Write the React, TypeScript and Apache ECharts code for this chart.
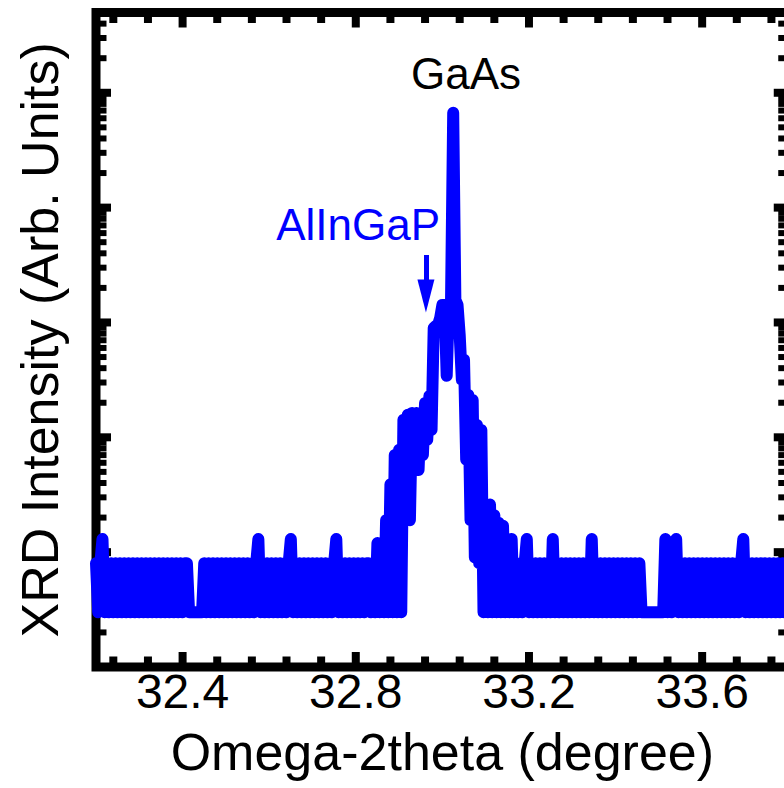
import React, { useEffect, useRef } from "react";
import * as echarts from "echarts";

// Omega-2theta scan grid (degrees)
const scanStart = 32.2;
const scanStep = 0.005;

// Detector counts, 32.200° – 32.825°
const countsLeftWing = [
  8, 3, 8, 13, 3, 8, 3, 8, 3, 8,
  3, 8, 3, 8, 3, 8, 3, 8, 3, 8,
  3, 8, 3, 8, 3, 8, 3, 8, 3, 8,
  3, 8, 3, 8, 3, 8, 3, 8, 3, 8,
  3, 8, 8, 3, 3, 3, 3, 3, 3, 3,
  8, 3, 8, 3, 8, 3, 8, 3, 8, 3,
  8, 3, 8, 3, 8, 3, 8, 3, 8, 3,
  8, 3, 8, 3, 8, 13, 3, 8, 3, 8,
  3, 8, 3, 8, 3, 8, 3, 8, 3, 8,
  13, 3, 8, 3, 8, 3, 8, 3, 8, 3,
  8, 3, 8, 3, 8, 3, 8, 3, 8, 3,
  8, 13, 3, 8, 3, 8, 3, 8, 3, 8,
  3, 8, 3, 8, 3, 8,
];

// Detector counts, 32.830° – 33.170° (AlInGaP layer + GaAs substrate)
const countsPeak = [
  8, 3, 8, 3, 12, 3, 12, 3, 19, 3,
  39, 3, 70, 3, 78, 3, 142, 19, 157, 19,
  163, 52, 163, 52, 163, 70, 199, 95, 229, 116,
  898, 934, 953, 1100, 1420, 1420, 343, 1420, 1570, 67000,
  1570, 1420, 780, 316, 472, 64, 234, 19, 211, 9,
  128, 8, 116, 3, 26, 3, 26, 3, 21, 3,
  18, 3, 17, 3, 13, 3, 13, 3, 8,
];

// Detector counts, 33.175° – 33.800°
const countsRightWing = [
  3, 8, 3, 8, 13, 3, 8, 3, 8, 3,
  8, 3, 8, 3, 8, 3, 13, 3, 8, 3,
  8, 3, 8, 3, 8, 3, 8, 3, 8, 3,
  8, 3, 8, 3, 13, 3, 8, 3, 8, 3,
  8, 3, 8, 3, 8, 3, 8, 3, 8, 3,
  8, 3, 8, 3, 8, 3, 8, 3, 3, 3,
  3, 3, 3, 3, 3, 3, 3, 3, 13, 3,
  8, 3, 8, 13, 3, 8, 3, 8, 3, 8,
  3, 8, 3, 8, 3, 8, 3, 8, 3, 8,
  3, 8, 3, 8, 3, 8, 3, 8, 3, 8,
  3, 8, 3, 8, 13, 3, 8, 3, 8, 3,
  8, 3, 8, 3, 8, 3, 8, 3, 8, 3,
  8, 3, 8, 3, 8, 3,
];

// Axis ranges and ticks
const X_MIN = 32.2;
const X_MAX = 33.8;
const Y_MIN = 1;
const Y_MAX = 5e5;
const xTickLabels = [32.4, 32.8, 33.2, 33.6];
const xMinorTicks = [
  32.24, 32.32, 32.48, 32.56, 32.64, 32.72, 32.88, 32.96,
  33.04, 33.12, 33.28, 33.36, 33.44, 33.52, 33.68, 33.76,
];
const yDecades = [10, 100, 1000, 10000, 100000];
const yMinorMultipliers = [2, 3, 4, 5, 6, 7, 8, 9];

// Layer peak marker (arrow from shaft top to head centre, in data units)
const layerArrowX = 32.962;
const layerArrowTop = 3866;
const layerArrowHead = 1700;

const FONT = "'Liberation Sans', Arial, Helvetica, sans-serif";
const BLUE = "#0000FF";

const counts = [...countsLeftWing, ...countsPeak, ...countsRightWing];
const scanData = counts.map((c, i) => [
  Math.round((scanStart + i * scanStep) * 1000) / 1000,
  c,
]);

const yMinorTicks: number[] = [1, ...yDecades].flatMap((d) =>
  yMinorMultipliers.map((k) => k * d).filter((v) => v < Y_MAX)
);

const xTickData = [
  ...xTickLabels.map((v) => [v, Y_MIN, 1]),
  ...xMinorTicks.map((v) => [v, Y_MIN, 0]),
];
const yTickData = [
  ...yDecades.map((v) => [X_MIN, v, 1]),
  ...yMinorTicks.map((v) => [X_MIN, v, 0]),
];

const MAJOR_LEN = 15;
const MINOR_LEN = 10.5;

function renderXTick(params: any, api: any) {
  const x = api.value(0);
  const major = api.value(2) === 1;
  const len = major ? MAJOR_LEN : MINOR_LEN;
  const b = api.coord([x, Y_MIN]);
  const t = api.coord([x, Y_MAX]);
  const style = { stroke: "#000", lineWidth: 8 };
  return {
    type: "group",
    children: [
      { type: "line", shape: { x1: b[0], y1: b[1], x2: b[0], y2: b[1] - len }, style },
      { type: "line", shape: { x1: t[0], y1: t[1], x2: t[0], y2: t[1] + len }, style },
    ],
  };
}

function renderYTick(params: any, api: any) {
  const y = api.value(1);
  const major = api.value(2) === 1;
  const len = major ? MAJOR_LEN : MINOR_LEN;
  const l = api.coord([X_MIN, y]);
  const r = api.coord([X_MAX, y]);
  const style = { stroke: "#000", lineWidth: major ? 8 : 6 };
  return {
    type: "group",
    children: [
      { type: "line", shape: { x1: l[0], y1: l[1], x2: l[0] + len, y2: l[1] }, style },
      { type: "line", shape: { x1: r[0], y1: r[1], x2: r[0] - len, y2: r[1] }, style },
    ],
  };
}

const option: any = {
  animation: false,
  backgroundColor: "#ffffff",
  textStyle: { fontFamily: FONT },
  grid: {
    left: 96,
    right: 11.25,
    top: 12.5,
    bottom: 121,
    show: true,
    borderColor: "#000",
    borderWidth: 9,
    backgroundColor: "transparent",
  },
  xAxis: {
    type: "value",
    min: X_MIN,
    max: X_MAX,
    interval: 0.2,
    axisLine: { show: false },
    axisTick: { show: false },
    splitLine: { show: false },
    axisLabel: {
      color: "#000",
      fontSize: 48,
      fontFamily: FONT,
      margin: 0,
      formatter: (v: number) =>
        xTickLabels.some((t) => Math.abs(t - v) < 1e-6) ? v.toFixed(1) : "",
    },
    name: "Omega-2theta (degree)",
    nameLocation: "middle",
    nameGap: 59,
    nameTextStyle: { color: "#000", fontSize: 52, fontFamily: FONT },
  },
  yAxis: {
    type: "log",
    logBase: 10,
    min: Y_MIN,
    max: Y_MAX,
    axisLine: { show: false },
    axisTick: { show: false },
    axisLabel: { show: false },
    splitLine: { show: false },
    name: "XRD Intensity (Arb. Units)",
    nameLocation: "middle",
    nameGap: 30,
    nameTextStyle: { color: "#000", fontSize: 52, fontFamily: FONT },
  },
  graphic: [
    {
      type: "text",
      z: 10,
      style: {
        text: "GaAs",
        x: 466,
        y: 73,
        align: "center",
        verticalAlign: "middle",
        fill: "#000",
        font: `44px ${FONT}`,
      },
    },
    {
      type: "text",
      z: 10,
      style: {
        text: "AlInGaP",
        x: 440,
        y: 224,
        align: "right",
        verticalAlign: "middle",
        fill: BLUE,
        font: `44px ${FONT}`,
      },
    },
  ],
  series: [
    {
      type: "custom",
      name: "xTicks",
      coordinateSystem: "cartesian2d",
      silent: true,
      z: 1,
      clip: false,
      encode: { x: 0, y: 1 },
      data: xTickData,
      renderItem: renderXTick,
    },
    {
      type: "custom",
      name: "yTicks",
      coordinateSystem: "cartesian2d",
      silent: true,
      z: 1,
      clip: false,
      encode: { x: 0, y: 1 },
      data: yTickData,
      renderItem: renderYTick,
    },
    {
      type: "line",
      name: "XRD",
      z: 2,
      data: scanData,
      showSymbol: false,
      symbol: "none",
      clip: true,
      lineStyle: { color: BLUE, width: 12, cap: "round", join: "round" },
      markLine: {
        silent: true,
        symbol: ["none", "triangle"],
        symbolSize: [17, 33],
        label: { show: false },
        lineStyle: { color: BLUE, width: 5, type: "solid" },
        itemStyle: { color: BLUE },
        data: [
          [
            { coord: [layerArrowX, layerArrowTop] },
            { coord: [layerArrowX, layerArrowHead] },
          ],
        ],
      },
    },
  ],
};

export default function App() {
  const ref = useRef<HTMLDivElement>(null);
  useEffect(() => {
    if (!ref.current) return;
    const chart = echarts.init(ref.current, null, { renderer: "svg" });
    chart.setOption(option);
    return () => chart.dispose();
  }, []);
  return (
    <div
      style={{
        position: "fixed",
        left: 0,
        top: 0,
        width: 784,
        height: 788,
        overflow: "hidden",
        background: "#fff",
      }}
    >
      <div ref={ref} style={{ width: 800, height: 788 }} />
    </div>
  );
}
